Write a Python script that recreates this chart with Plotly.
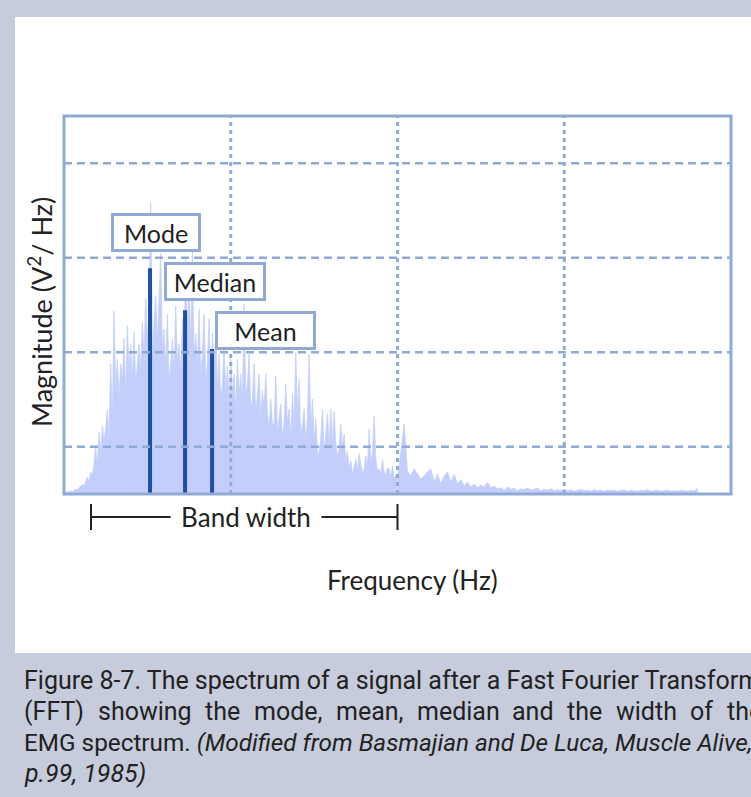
import plotly.graph_objects as go

# ---- data ----
# dense part of the spectrum, frequency 0.01 .. 2.00 in steps of 0.01
SPECTRUM_LOW = [
    0.3, 0.4, 0.4, 0.6, 0.5, 0.8, 1.0, 0.9, 1.3, 1.6,
    2.0, 1.7, 2.8, 3.5, 2.6, 4.7, 3.9, 6.3, 10.2, 5.8,
    13.1, 9.0, 14.4, 11.5, 13.8, 17.9, 12.0, 27.5, 16.0, 38.7,
    22.0, 28.6, 20.5, 27.5, 24.0, 33.0, 20.7, 35.6, 26.0, 31.7,
    24.0, 34.3, 23.3, 28.0, 31.7, 26.5, 36.4, 29.0, 41.3, 33.0,
    38.0, 61.6, 30.0, 36.0, 42.0, 32.0, 39.8, 51.0, 30.0, 34.9,
    27.0, 38.1, 24.0, 27.5, 32.8, 25.0, 39.8, 28.0, 31.7, 26.0,
    37.0, 30.0, 49.7, 34.0, 43.4, 32.0, 51.4, 29.0, 33.9, 27.0,
    39.2, 25.0, 29.6, 38.1, 24.0, 27.5, 37.0, 22.0, 34.0, 25.4,
    34.9, 22.0, 29.6, 20.0, 23.3, 31.7, 21.0, 27.0, 19.0, 28.6,
    21.2, 25.4, 18.0, 28.6, 21.0, 25.4, 19.0, 40.2, 21.0, 23.3,
    29.6, 18.0, 20.1, 27.5, 17.0, 21.2, 25.4, 16.0, 22.0, 18.0,
    25.4, 16.9, 14.0, 20.1, 15.0, 14.8, 25.0, 13.0, 15.9, 19.0,
    12.0, 14.8, 23.3, 15.0, 18.0, 12.0, 21.2, 14.0, 30.0, 17.0,
    24.3, 12.0, 14.8, 18.0, 11.0, 16.0, 29.6, 14.0, 20.1, 11.0,
    15.9, 9.0, 8.5, 12.0, 18.0, 9.0, 12.7, 17.0, 10.0, 18.0,
    11.0, 17.5, 10.6, 8.0, 9.5, 14.8, 10.0, 12.7, 7.0, 9.0,
    5.3, 7.0, 4.2, 6.0, 7.4, 5.0, 8.5, 6.3, 4.5, 5.3,
    8.0, 6.0, 13.8, 6.3, 9.0, 16.5, 7.4, 5.0, 5.3, 4.2,
    7.4, 4.5, 4.2, 5.5, 5.3, 3.5, 6.0, 3.2, 4.0, 3.0,
]
LOW_START, LOW_STEP = 0.01, 0.01
# tail of the spectrum, frequency 2.00 .. 3.80 in steps of 0.02
SPECTRUM_HIGH = [
    3.0,
    9.5, 14.8, 4.7, 3.8, 5.3, 4.2, 3.2, 3.8, 4.7, 5.3,
    2.5, 4.2, 2.1, 3.8, 4.7, 2.5, 4.2, 2.1, 3.0, 1.7,
    2.5, 1.5, 2.1, 1.3, 1.9, 1.5, 2.5, 1.3, 1.7, 1.1,
    1.3, 0.8, 1.5, 1.0, 1.2, 0.7, 1.1, 0.9, 1.3, 0.8,
    1.0, 1.2, 0.7, 1.0, 0.8, 1.1, 0.7, 0.9, 0.8, 1.0,
    0.7, 0.9, 0.6, 0.8, 1.0, 0.7, 0.8, 0.6, 0.9, 0.7,
    0.8, 0.6, 0.9, 0.7, 0.8, 0.6, 0.7, 0.9, 0.6, 0.8,
    0.7, 0.6, 0.8, 0.7, 0.9, 0.6, 0.7, 0.8, 0.6, 0.7,
    0.8, 0.6, 0.7, 0.6, 0.8, 0.7, 0.6, 0.8, 0.7, 1.2,
]
HIGH_START, HIGH_STEP = 2.00, 0.02

STAT_NAMES = ["Mode", "Median", "Mean"]
STAT_FREQ = [0.516, 0.726, 0.888]
STAT_MAG = [47.8, 38.9, 30.7]
LABEL_POS = [(0.552, 55.4), (0.906, 44.9), (1.208, 34.6)]
LABEL_W = [80, 92, 91]

BAND = [0.162, 2.0]
XGRID = [1, 2, 3]
YGRID = [10, 30, 50, 70]

CAPTION_LINE1 = "Figure 8-7. The spectrum of a signal after a Fast Fourier Transform"
CAPTION_LINE2 = ["(FFT)", "showing", "the", "mode,", "mean,", "median", "and", "the",
                 "width", "of", "the"]
CAPTION_LINE3 = "EMG spectrum. <i>(Modified from Basmajian and De Luca, Muscle Alive,</i>"
CAPTION_LINE4 = "<i>p.99, 1985)</i>"

# ---- styles / layout ----
W, H = 751, 797
L, R, T, B = 64, 20, 116, 303
PW, PH = W - L - R, H - T - B
OUTER = "#c6ccdb"
FRAME = "#91aad5"
SPEC = "#c3cffa"
STAT = "#1f4fa3"
TXT = "#222222"
LFONT = "Lato, 'Noto Sans', sans-serif"
CFONT = "Roboto, sans-serif"
LINE2_LEFT = [22, 96, 203, 252, 334, 415, 510, 565, 614, 688, 725]  # justified word starts
CAP_Y = [680, 711, 742, 773]


def px_x(p):
    return (p - L) / PW


def px_y(p):
    return (H - B - p) / PH


fig = go.Figure()
for ys, x0, dx in [(SPECTRUM_LOW, LOW_START, LOW_STEP), (SPECTRUM_HIGH, HIGH_START, HIGH_STEP)]:
    fig.add_trace(go.Scatter(
        y=ys, x0=x0, dx=dx, mode="lines",
        line=dict(color=SPEC, width=0.8), fill="tozeroy", fillcolor=SPEC,
        hoverinfo="skip", showlegend=False))

for f, m in zip(STAT_FREQ, STAT_MAG):
    fig.add_trace(go.Scatter(x=[f, f], y=[0, m], mode="lines",
                             line=dict(color=STAT, width=4),
                             hoverinfo="skip", showlegend=False))

shapes = []
shapes.append(dict(type="rect", xref="paper", yref="paper",
                   x0=px_x(15), x1=px_x(W + 5), y0=px_y(653), y1=px_y(17),
                   fillcolor="white", line=dict(width=0), layer="below"))
for g in XGRID:
    shapes.append(dict(type="line", xref="x", yref="paper", x0=g, x1=g, y0=0, y1=1,
                       line=dict(color=FRAME, width=3, dash="4px,4px"), layer="above"))
for g in YGRID:
    shapes.append(dict(type="line", xref="paper", yref="y", x0=0, x1=1, y0=g, y1=g,
                       line=dict(color=FRAME, width=2.5, dash="8px,5px"), layer="above"))
shapes.append(dict(type="rect", xref="paper", yref="paper", x0=0, x1=1, y0=0, y1=1,
                   line=dict(color=FRAME, width=3), layer="above"))
by = px_y(517)
shapes.append(dict(type="line", xref="x", yref="paper", x0=BAND[0], x1=BAND[1], y0=by, y1=by,
                   line=dict(color=TXT, width=2)))
for bx in BAND:
    shapes.append(dict(type="line", xref="x", yref="paper", x0=bx, x1=bx,
                       y0=px_y(504), y1=px_y(530), line=dict(color=TXT, width=2)))

ann = []
for name, (ax, ay), w in zip(STAT_NAMES, LABEL_POS, LABEL_W):
    ann.append(dict(x=ax, y=ay, xref="x", yref="y", text=name, showarrow=False,
                    xanchor="center", yanchor="middle",
                    font=dict(family=LFONT, size=25, color=TXT), bgcolor="white",
                    bordercolor=FRAME, borderwidth=3, borderpad=2, width=w, height=29))
ann.append(dict(x=px_x(246), y=by, xref="paper", yref="paper", xanchor="center",
                yanchor="middle", text="Band width", showarrow=False, bgcolor="white",
                borderpad=0, width=150, height=24,
                font=dict(family=LFONT, size=26, color=TXT)))
ann.append(dict(x=px_x(412), y=px_y(580), xref="paper", yref="paper", xanchor="center",
                yanchor="middle", text="Frequency (Hz)", showarrow=False,
                font=dict(family=LFONT, size=26, color=TXT)))
ann.append(dict(x=px_x(40), y=px_y(312), xref="paper", yref="paper", textangle=-90,
                xanchor="center", yanchor="middle",
                text="Magnitude (V<sup>2</sup>/ Hz)", showarrow=False,
                font=dict(family=LFONT, size=27, color=TXT)))


def cap(txt, x, y, size=25):
    ann.append(dict(x=px_x(x), y=px_y(y), xref="paper", yref="paper", xanchor="left",
                    yanchor="middle", text=txt, showarrow=False,
                    font=dict(family=CFONT, size=size, color=TXT)))


cap(CAPTION_LINE1, 22, CAP_Y[0])
for word, wx in zip(CAPTION_LINE2, LINE2_LEFT):
    cap(word, wx, CAP_Y[1])
cap(CAPTION_LINE3, 22, CAP_Y[2], 24.3)
cap(CAPTION_LINE4, 22, CAP_Y[3])

fig.update_layout(
    width=W, height=H, margin=dict(l=L, r=R, t=T, b=B),
    paper_bgcolor=OUTER, plot_bgcolor="rgba(0,0,0,0)",
    xaxis=dict(range=[0, 4], showgrid=False, zeroline=False, showticklabels=False,
               ticks="", showline=False),
    yaxis=dict(range=[0, 80], showgrid=False, zeroline=False, showticklabels=False,
               ticks="", showline=False),
    shapes=shapes, annotations=ann, showlegend=False,
)
fig.write_html("out.html")
